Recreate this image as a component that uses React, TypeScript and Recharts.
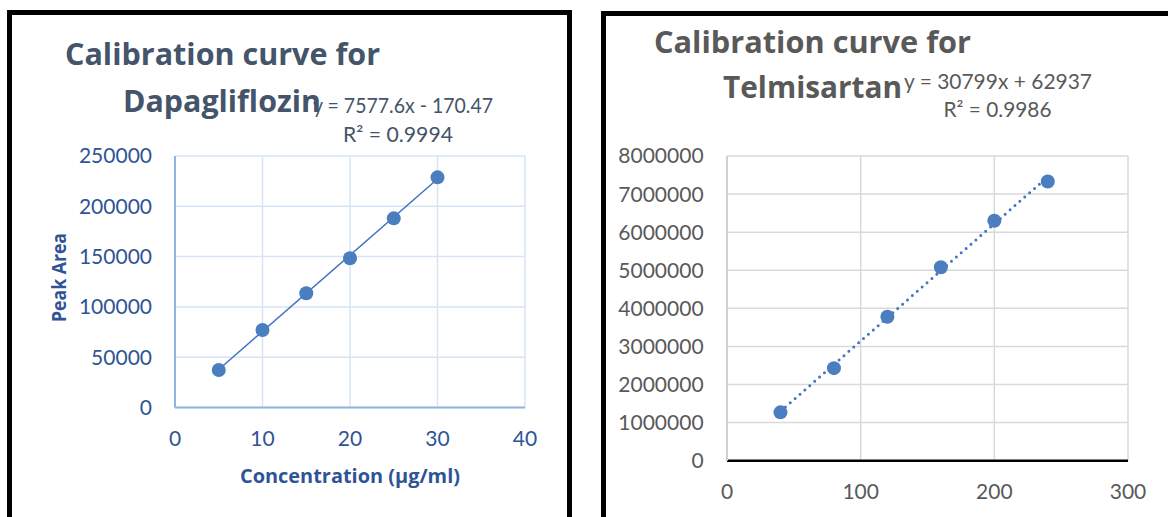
import React from "react";
import { ScatterChart, Scatter, XAxis, YAxis, CartesianGrid } from "recharts";

// ---- Dapagliflozin data ----
const dapaConc = [5, 10, 15, 20, 25, 30];
const dapaArea = [37300, 77000, 113500, 148300, 188000, 228800];
const dapaXTicks = [0, 10, 20, 30, 40];
const dapaYTicks = [0, 50000, 100000, 150000, 200000, 250000];
const dapaSlope = 7577.6;
const dapaIntercept = -170.47;

// ---- Telmisartan data ----
const telmiConc = [40, 80, 120, 160, 200, 240];
const telmiArea = [1270000, 2430000, 3780000, 5080000, 6300000, 7330000];
const telmiXTicks = [0, 100, 200, 300];
const telmiYTicks = [0, 1000000, 2000000, 3000000, 4000000, 5000000, 6000000, 7000000, 8000000];
const telmiSlope = 30799;
const telmiIntercept = 62937;

const dapaPoints = dapaConc.map((x, i) => ({ x, y: dapaArea[i] }));
const telmiPoints = telmiConc.map((x, i) => ({ x, y: telmiArea[i] }));
const dapaTrend = [dapaConc[0], dapaConc[dapaConc.length - 1]].map((x) => ({ x, y: dapaSlope * x + dapaIntercept }));
const telmiTrend = [telmiConc[0], telmiConc[telmiConc.length - 1]].map((x) => ({ x, y: telmiSlope * x + telmiIntercept }));

const FONT = "Lato, 'Open Sans', sans-serif";
const BOLD_FONT = "'Open Sans', Lato, sans-serif";
const MARKER = "#4A7EBF";

const Dot = (props: any) => <circle cx={props.cx} cy={props.cy} r={7} fill={MARKER} />;
const NoShape = () => <g />;

const boldStyle: React.CSSProperties = { fontVariantLigatures: "none" };

export default function App() {
  return (
    <div style={{ position: "absolute", left: 0, top: 0, width: 1168, height: 517, overflow: "hidden", background: "#fff" }}>
      {/* panel frames */}
      <div style={{ position: "absolute", left: 7, top: 10, width: 555, height: 600, border: "5px solid #000", borderBottom: "none" }} />
      <div style={{ position: "absolute", left: 601, top: 11, width: 700, height: 600, border: "5px solid #000", borderBottom: "none" }} />

      {/* left chart */}
      <div style={{ position: "absolute", left: 0, top: 0 }}>
        <ScatterChart width={580} height={517} margin={{ top: 156, right: 55, bottom: 79.5, left: 75 }}>
          <CartesianGrid stroke="#D6E4F5" strokeWidth={1.5} />
          <XAxis
            type="number"
            dataKey="x"
            domain={[0, 40]}
            ticks={dapaXTicks}
            height={30}
            tickSize={0}
            tickMargin={23.5}
            axisLine={{ stroke: "#8FB4E3", strokeWidth: 2 }}
            tick={{ fill: "#2F5496", fontSize: 21, fontFamily: FONT }}
          />
          <YAxis
            type="number"
            dataKey="y"
            domain={[0, 250000]}
            ticks={dapaYTicks}
            width={100}
            tickSize={0}
            tickMargin={23}
            axisLine={{ stroke: "#8FB4E3", strokeWidth: 2 }}
            tick={{ fill: "#2F5496", fontSize: 21, fontFamily: FONT }}
          />
          <Scatter data={dapaTrend} line={{ stroke: "#4472C4", strokeWidth: 1.5 }} shape={NoShape} isAnimationActive={false} />
          <Scatter data={dapaPoints} shape={Dot} isAnimationActive={false} />
        </ScatterChart>
      </div>

      {/* right chart */}
      <div style={{ position: "absolute", left: 590, top: 0 }}>
        <ScatterChart width={578} height={517} margin={{ top: 156, right: 40, bottom: 26.3, left: 37 }}>
          <CartesianGrid stroke="#D9D9D9" strokeWidth={1.5} />
          <XAxis
            type="number"
            dataKey="x"
            domain={[0, 300]}
            ticks={telmiXTicks}
            height={30}
            tickSize={0}
            tickMargin={23.5}
            axisLine={{ stroke: "#000", strokeWidth: 2.5 }}
            tick={{ fill: "#595959", fontSize: 21, fontFamily: FONT }}
          />
          <YAxis
            type="number"
            dataKey="y"
            domain={[0, 8000000]}
            ticks={telmiYTicks}
            width={100}
            tickSize={0}
            tickMargin={23.4}
            axisLine={{ stroke: "#D0D0D0", strokeWidth: 2 }}
            tick={{ fill: "#595959", fontSize: 21, fontFamily: FONT }}
          />
          <Scatter
            data={telmiTrend}
            line={{ stroke: "#4472C4", strokeWidth: 3, strokeDasharray: "0 6.5", strokeLinecap: "round" }}
            shape={NoShape}
            isAnimationActive={false}
          />
          <Scatter data={telmiPoints} shape={Dot} isAnimationActive={false} />
        </ScatterChart>
      </div>

      {/* text overlay */}
      <svg width={1168} height={517} style={{ position: "absolute", left: 0, top: 0, pointerEvents: "none" }} fontFamily={FONT}>
        {/* left equation */}
        <text x={313} y={113} fontSize={21} fill="#44546A" textLength={180} lengthAdjust="spacingAndGlyphs">y = 7577.6x - 170.47</text>
        <text x={343} y={142} fontSize={21} fill="#44546A" textLength={110} lengthAdjust="spacingAndGlyphs">R² = 0.9994</text>
        {/* left title */}
        <text x={65} y={65} fontSize={31} fontWeight={700} fontFamily={BOLD_FONT} style={boldStyle} fill="#44546A" textLength={315} lengthAdjust="spacingAndGlyphs">Calibration curve for</text>
        <text x={123} y={112} fontSize={31} fontWeight={700} fontFamily={BOLD_FONT} style={boldStyle} fill="#44546A" textLength={198} lengthAdjust="spacingAndGlyphs">Dapagliflozin</text>
        {/* left axis titles */}
        <text x={240} y={483} fontSize={19.5} fontWeight={700} fontFamily={BOLD_FONT} style={boldStyle} fill="#2F5496" textLength={220} lengthAdjust="spacingAndGlyphs">Concentration (µg/ml)</text>
        <text transform="translate(66,322) rotate(-90)" x={0} y={0} fontSize={20} fontWeight={700} fontFamily={BOLD_FONT} style={boldStyle} fill="#2F5496" textLength={89} lengthAdjust="spacingAndGlyphs">Peak Area</text>

        {/* right equation */}
        <text x={904} y={89} fontSize={21} fill="#595959" textLength={188} lengthAdjust="spacingAndGlyphs">y = 30799x + 62937</text>
        <text x={943.5} y={117} fontSize={21} fill="#595959" textLength={108} lengthAdjust="spacingAndGlyphs">R² = 0.9986</text>
        {/* right title */}
        <text x={654} y={53} fontSize={31} fontWeight={700} fontFamily={BOLD_FONT} style={boldStyle} fill="#595959" textLength={317} lengthAdjust="spacingAndGlyphs">Calibration curve for</text>
        <text x={723} y={98} fontSize={31} fontWeight={700} fontFamily={BOLD_FONT} style={boldStyle} fill="#595959" textLength={179} lengthAdjust="spacingAndGlyphs">Telmisartan</text>
      </svg>
    </div>
  );
}
